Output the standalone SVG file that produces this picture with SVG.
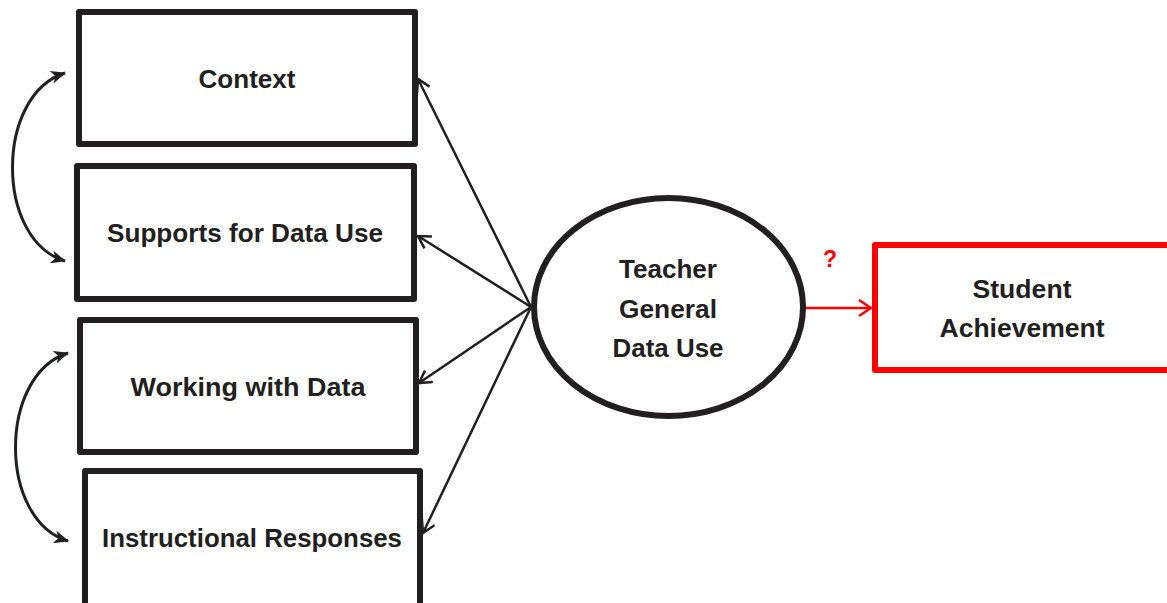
<svg xmlns="http://www.w3.org/2000/svg" width="1167" height="603" viewBox="0 0 1167 603">
<style>
.box{fill:#fff;stroke:#231f20;stroke-width:6;stroke-linejoin:round}
.red{fill:#fff;stroke:#ff0000;stroke-width:6;stroke-linejoin:round}
.lbl{font-family:"Liberation Sans",Arial,sans-serif;font-weight:bold;font-size:26px;fill:#231f20;text-anchor:middle}
.conn{fill:none;stroke:#231f20;stroke-width:2.5}
.curve{fill:none;stroke:#231f20;stroke-width:3}
</style>
<defs>
<marker id="open" markerUnits="userSpaceOnUse" viewBox="0 0 14 16" refX="13" refY="8" markerWidth="14" markerHeight="16" orient="auto">
<path d="M1,1 L13,8 L1,15" fill="none" stroke="#231f20" stroke-width="2.5"/>
</marker>
<marker id="openRed" markerUnits="userSpaceOnUse" viewBox="0 0 14 18" refX="13" refY="9" markerWidth="14" markerHeight="18" orient="auto">
<path d="M1,1 L13,9 L1,17" fill="none" stroke="#ff0000" stroke-width="2.5"/>
</marker>
<marker id="solid" markerUnits="userSpaceOnUse" viewBox="0 0 15 13" refX="14" refY="6.5" markerWidth="15" markerHeight="13" orient="auto-start-reverse">
<path d="M0,0 L15,6.5 L0,13 L4,6.5 Z" fill="#231f20"/>
</marker>
</defs>

<g id="connectors">
<line class="conn" x1="531" y1="307" x2="418" y2="79" marker-end="url(#open)"/>
<line class="conn" x1="531" y1="307" x2="418" y2="236" marker-end="url(#open)"/>
<line class="conn" x1="531" y1="307" x2="419" y2="383" marker-end="url(#open)"/>
<line class="conn" x1="531" y1="307" x2="423" y2="533" marker-end="url(#open)"/>
<path class="curve" d="M65,73 C-5,95 -5,240 65,261" marker-start="url(#solid)" marker-end="url(#solid)"/>
<path class="curve" d="M68,353 C-2,375 -2,520 68,541" marker-start="url(#solid)" marker-end="url(#solid)"/>
<line x1="805" y1="308" x2="871" y2="308" stroke="#ff0000" stroke-width="2.5" marker-end="url(#openRed)"/>
<text x="830" y="267" font-family="Liberation Sans,Arial,sans-serif" font-weight="bold" font-size="23" fill="#ff0000" text-anchor="middle">?</text>
</g>

<g id="context">
<rect class="box" x="79" y="12" width="336" height="132"/>
<text class="lbl" x="247" y="88" textLength="97" lengthAdjust="spacingAndGlyphs">Context</text>
</g>
<g id="supports">
<rect class="box" x="77" y="166" width="337" height="133"/>
<text class="lbl" x="245" y="242" textLength="276" lengthAdjust="spacingAndGlyphs">Supports for Data Use</text>
</g>
<g id="working">
<rect class="box" x="80" y="320" width="336" height="132"/>
<text class="lbl" x="248" y="396" textLength="235" lengthAdjust="spacingAndGlyphs">Working with Data</text>
</g>
<g id="instructional">
<rect class="box" x="85" y="471" width="335" height="140"/>
<text class="lbl" x="252" y="547" textLength="300" lengthAdjust="spacingAndGlyphs">Instructional Responses</text>
</g>
<g id="teacher">
<ellipse cx="668.5" cy="307" rx="134.5" ry="109" fill="#fff" stroke="#231f20" stroke-width="6"/>
<text class="lbl" x="668" y="278" textLength="98" lengthAdjust="spacingAndGlyphs">Teacher</text>
<text class="lbl" x="668" y="318" textLength="98" lengthAdjust="spacingAndGlyphs">General</text>
<text class="lbl" x="668" y="357" textLength="111" lengthAdjust="spacingAndGlyphs">Data Use</text>
</g>
<g id="student">
<rect class="red" x="875" y="245" width="310" height="125"/>
<text class="lbl" x="1022" y="298" textLength="99" lengthAdjust="spacingAndGlyphs">Student</text>
<text class="lbl" x="1022" y="337" textLength="165" lengthAdjust="spacingAndGlyphs">Achievement</text>
</g>
</svg>
